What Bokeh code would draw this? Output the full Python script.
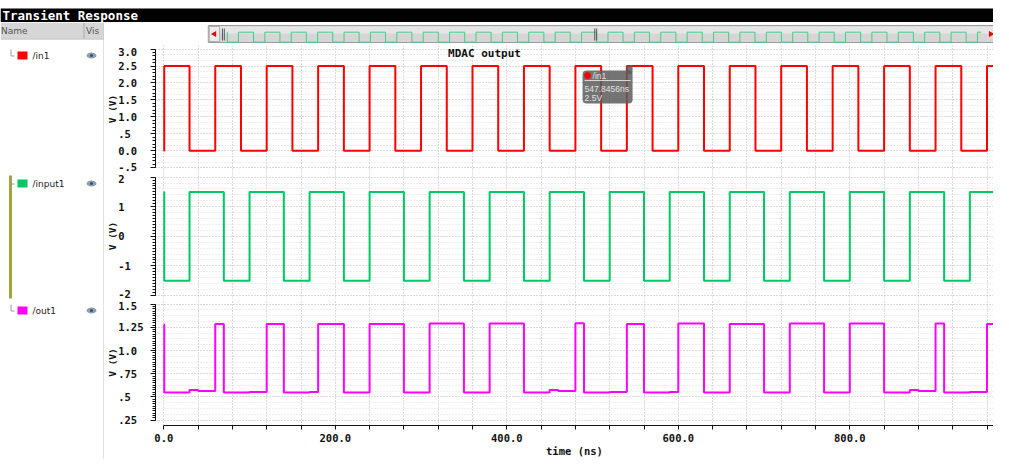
from math import pi
import numpy as np
from bokeh.plotting import figure
from bokeh.layouts import row, column
from bokeh.models import Range1d, FixedTicker, SingleIntervalTicker, Label, BoxAnnotation
from bokeh.core.properties import value
from bokeh.embed import file_html
from bokeh.resources import INLINE

# ---------------- data ----------------
signal_names = ["/in1", "/input1", "/out1"]
signal_colors = ["#ff0000", "#00c864", "#ff00ff"]

in1_t = [0, 0.5, 30, 60, 90, 120, 150, 180, 210, 240, 270, 300, 330, 360, 390, 420,
         450, 480, 510, 540, 570, 600, 630, 660, 690, 720, 750, 780, 810, 840, 870,
         900, 930, 960, 972]
in1_v = [0.0, 2.5, 0.0, 2.5, 0.0, 2.5, 0.0, 2.5, 0.0, 2.5, 0.0, 2.5, 0.0, 2.5, 0.0, 2.5,
         0.0, 2.5, 0.0, 2.5, 0.0, 2.5, 0.0, 2.5, 0.0, 2.5, 0.0, 2.5, 0.0, 2.5, 0.0,
         2.5, 0.0, 2.5, 2.5]

input1_t = [0, 0.5, 30, 70, 100, 140, 170, 210, 240, 280, 310, 350, 380, 420, 450, 490,
            520, 560, 590, 630, 660, 700, 730, 770, 800, 840, 870, 910, 940, 980,
            1010, 1050, 1080, 1120, 1150, 1190, 1220, 1260, 1290, 1330, 1360, 1400,
            1430, 1470, 1500, 1540, 1570, 1610, 1640, 1680, 1710, 1750, 1780, 1820,
            1850, 1890, 1920, 1960, 1990, 2000]
input1_v = [1.5, -1.5, 1.5, -1.5, 1.5, -1.5, 1.5, -1.5, 1.5, -1.5, 1.5, -1.5, 1.5, -1.5, 1.5, -1.5,
            1.5, -1.5, 1.5, -1.5, 1.5, -1.5, 1.5, -1.5, 1.5, -1.5, 1.5, -1.5, 1.5, -1.5,
            1.5, -1.5, 1.5, -1.5, 1.5, -1.5, 1.5, -1.5, 1.5, -1.5, 1.5, -1.5,
            1.5, -1.5, 1.5, -1.5, 1.5, -1.5, 1.5, -1.5, 1.5, -1.5, 1.5, -1.5,
            1.5, -1.5, 1.5, -1.5, 1.5, 1.5]

out1_t = [0, 0.5, 30, 40, 60, 70, 100, 120, 140, 170, 180, 210, 240, 280, 310, 350, 380,
          420, 450, 460, 480, 490, 520, 540, 560, 590, 600, 630, 660, 700, 730, 770,
          800, 840, 870, 880, 900, 910, 940, 960, 972]
out1_v = [1.28, 0.547, 0.575, 0.563, 1.285, 0.547, 0.553, 1.285, 0.547, 0.553, 1.285,
          0.547, 1.285, 0.547, 1.29, 0.547, 1.29, 0.547, 0.575, 0.563, 1.295, 0.547,
          0.553, 1.285, 0.547, 0.553, 1.29, 0.547, 1.285, 0.547, 1.29, 0.547, 1.29,
          0.547, 0.575, 0.563, 1.29, 0.547, 0.553, 1.285, 1.285]

time_ticks = [0, 40, 80, 120, 160, 200, 240, 280, 320, 360, 400, 440, 480, 520, 560,
              600, 640, 680, 720, 760, 800, 840, 880, 920, 960]
time_tick_labels = {0: "0.0", 200: "200.0", 400: "400.0", 600: "600.0", 800: "800.0"}

in1_ticks = [-0.5, 0.0, 0.5, 1.0, 1.5, 2.0, 2.5, 3.0]
in1_tick_labels = ["-.5", "0.0", ".5", "1.0", "1.5", "2.0", "2.5", "3.0"]
input1_ticks = [-2, -1, 0, 1, 2]
input1_tick_labels = ["-2", "-1", "0", "1", "2"]
out1_ticks = [0.25, 0.5, 0.75, 1.0, 1.25, 1.5]
out1_tick_labels = [".25", ".5", ".75", "1.0", "1.25", "1.5"]

cursor_t = 547.8456
cursor_v = 2.5
cursor_name = "/in1"

# ---------------- geometry ----------------
MONO = "DejaVu Sans Mono"
SANS = "DejaVu Sans"
NB = "\u00a0"

LEFT_W = 104
PANEL_W = 993 - LEFT_W
BORDER_L = 155 - LEFT_W
BORDER_R = 0
FRAME_W = PANEL_W - BORDER_L - BORDER_R
XS = 0.8575                       # px per ns
X0 = -(163.3 - 155) / XS
X1 = X0 + FRAME_W / XS
shared_x = Range1d(X0, X1)


def make_panel(height, y0, y1, ticks, labels, minor, grid_iv, grid_minor, bottom=False):
    p = figure(width=PANEL_W, height=height, x_range=shared_x, y_range=Range1d(y0, y1),
               output_backend="svg", toolbar_location=None,
               x_axis_location="below" if bottom else None,
               min_border_left=BORDER_L, min_border_right=BORDER_R, min_border_top=0,
               min_border_bottom=31 if bottom else 0,
               outline_line_color=None, background_fill_color="white",
               border_fill_color="white")
    ax = p.yaxis[0]
    ax.ticker = FixedTicker(ticks=ticks, minor_ticks=minor)
    ax.bounds = (ticks[0], ticks[-1])
    ax.major_label_overrides = {t: lab.ljust(4, NB) for t, lab in zip(ticks, labels)}
    ax.major_tick_out = 5
    ax.major_tick_in = 0
    ax.minor_tick_out = 3
    ax.minor_tick_in = 0
    ax.axis_line_color = "#111111"
    ax.major_tick_line_color = "#111111"
    ax.minor_tick_line_color = "#111111"
    ax.major_label_standoff = 7
    ax.major_label_text_font = MONO
    ax.major_label_text_font_size = "10.5px"
    ax.major_label_text_font_style = "bold"
    ax.major_label_text_color = "#111111"
    ax.axis_label = "V (V)"
    ax.axis_label_standoff = -3
    ax.axis_label_text_font = MONO
    ax.axis_label_text_font_size = "9.5px"
    ax.axis_label_text_font_style = "bold"
    ax.axis_label_text_color = "#111111"

    p.xgrid.ticker = FixedTicker(ticks=time_ticks)
    p.xgrid.grid_line_color = "#b9b9b9"
    p.xgrid.grid_line_dash = "1 2"
    p.ygrid.ticker = SingleIntervalTicker(interval=grid_iv, num_minor_ticks=grid_minor)
    p.ygrid.grid_line_color = "#c9c9c9"
    p.ygrid.grid_line_dash = "1 2"
    p.ygrid.minor_grid_line_color = "#dddddd"
    p.ygrid.minor_grid_line_dash = "1 2"

    if bottom:
        xa = p.xaxis[0]
        xa.ticker = FixedTicker(ticks=time_ticks, minor_ticks=[])
        xa.bounds = (0, in1_t[-1])
        xa.major_label_overrides = {t: time_tick_labels.get(t, "") for t in time_ticks}
        xa.major_tick_out = 4
        xa.major_tick_in = 0
        xa.minor_tick_out = 0
        xa.axis_line_color = "#111111"
        xa.major_tick_line_color = "#111111"
        xa.major_label_standoff = 4
        xa.major_label_text_font = MONO
        xa.major_label_text_font_size = "10.5px"
        xa.major_label_text_font_style = "bold"
        xa.major_label_text_color = "#111111"
        xa.axis_label = "time (ns)"
        xa.axis_label_standoff = 0
        xa.axis_label_text_font = MONO
        xa.axis_label_text_font_size = "10.5px"
        xa.axis_label_text_font_style = "bold"
        xa.axis_label_text_color = "#111111"
    return p


p1 = make_panel(127, -0.640, 3.106, in1_ticks, in1_tick_labels,
                np.round(np.arange(-0.5, 3.0001, 0.1), 3).tolist(), 0.5, 3)
p2 = make_panel(127, -2.135, 2.155, input1_ticks, input1_tick_labels,
                np.round(np.arange(-2.0, 2.0001, 0.1), 3).tolist(), 1.0, 5)
p3 = make_panel(160, 0.1917, 1.550, out1_ticks, out1_tick_labels,
                np.round(np.arange(0.25, 1.5001, 0.025), 4).tolist(), 0.25, 4, bottom=True)

p1.step(x=in1_t, y=in1_v, mode="after", line_color=signal_colors[0], line_width=2)
p2.step(x=input1_t, y=input1_v, mode="after", line_color=signal_colors[1], line_width=2)
p3.step(x=out1_t, y=out1_v, mode="after", line_color=signal_colors[2], line_width=2)

# graph title
YS1 = 127 / (3.106 + 0.640)
p1.add_layout(Label(x=(484 - 163.3) / XS, y=3.106 - 8 / YS1, text="MDAC output",
                    text_align="center", text_baseline="middle", text_font=MONO,
                    text_font_size="11px", text_font_style="bold", text_color="#111111"))


# cursor tooltip on /in1
def tip_x(px):
    return cursor_t + px / XS


def tip_y(py):
    return cursor_v - py / YS1


p1.add_layout(BoxAnnotation(left=tip_x(-51), right=tip_x(-1), top=tip_y(4.5), bottom=tip_y(37.5),
                            fill_color="#5c5c5c", fill_alpha=0.85, line_color=None,
                            border_radius=4))
p1.add_layout(BoxAnnotation(left=tip_x(-7), right=tip_x(-1), top=tip_y(-1), bottom=tip_y(8),
                            fill_color="#5c5c5c", fill_alpha=0.85, line_color=None,
                            border_radius=2))
p1.scatter(x=[tip_x(-46)], y=[tip_y(9.5)], size=6, color=signal_colors[0], level="overlay")
p1.segment(x0=[tip_x(-49)], y0=[tip_y(14.5)], x1=[tip_x(-3)], y1=[tip_y(14.5)],
           line_color="#d8d8d8", line_width=1, level="overlay")
for txt, dx, dy in [(cursor_name, -41, -9.5), (f"{cursor_t}ns", -49, -22.5),
                    (f"{cursor_v}V", -49, -31.5)]:
    p1.add_layout(Label(x=cursor_t, y=cursor_v, x_offset=dx, y_offset=dy, text=txt,
                        text_align="left", text_baseline="middle", text_font="Liberation Sans",
                        text_font_size="8.5px", text_color="#e2e2e2"))


# ---------------- chrome ----------------
def chrome_fig(w, h, xr, yr, bg="white"):
    f = figure(width=w, height=h, x_range=Range1d(*xr), y_range=Range1d(*yr),
               output_backend="svg", toolbar_location=None, x_axis_location=None,
               y_axis_location=None, min_border=0, outline_line_color=None,
               background_fill_color=bg, border_fill_color=bg)
    f.xgrid.visible = False
    f.ygrid.visible = False
    return f


# title bar (reference px coordinates)
tb = chrome_fig(993, 22, (0, 993), (22, 0))
tb.quad(left=[0], right=[993], top=[8], bottom=[22], fill_color="black", line_color=None)
tb.add_layout(Label(x=2, y=15.3, text="Transient Response", text_align="left",
                    text_baseline="middle", text_font=MONO, text_font_size="12.5px",
                    text_font_style="bold", text_color="white"))

# left signal list panel (reference px coordinates)
lp = chrome_fig(LEFT_W, 437, (0, LEFT_W), (459, 22))
lp.quad(left=[0], right=[LEFT_W], top=[22], bottom=[38], fill_color="#d6d6d6", line_color=None)
lp.segment(x0=[0], y0=[38.5], x1=[LEFT_W], y1=[38.5], line_color="#b4b4b4", line_width=1)
lp.segment(x0=[83.5], y0=[22], x1=[83.5], y1=[38], line_color="#a8a8a8", line_width=1)
lp.text(x=[0.5, 85.5], y=[30.5, 30.5], text=["Name", "Vis"], text_font=value(SANS),
        text_font_size="9px", text_color="#555555", text_baseline="middle")
lp.segment(x0=[LEFT_W - 0.5], y0=[22], x1=[LEFT_W - 0.5], y1=[459], line_color="#c4c4c4",
           line_width=1)
lp.quad(left=[8.5], right=[11.5], top=[175], bottom=[298], fill_color="#a3a33a", line_color=None)
row_y = [55, 183, 310]
for name, col, y in zip(signal_names, signal_colors, row_y):
    lp.line(x=[10.5, 10.5, 14], y=[y - 6, y + 0.5, y + 0.5], line_color="#9a9a9a", line_width=1)
    lp.quad(left=[17], right=[27], top=[y - 4], bottom=[y + 4], fill_color=col, line_color=None)
    lp.text(x=[32], y=[y + 0.5], text=[name], text_font=value(SANS), text_font_size="9px",
            text_color="#222222", text_baseline="middle")
    lp.ellipse(x=[91], y=[y], width=10, height=6, fill_color="#8d9fb6", line_color=None)
    lp.scatter(x=[91], y=[y], size=3, fill_color="#3f4f63", line_color=None)

# scrollbar with overview of /input1
SPX = 0.4            # px per ns in overview
SCY = 10 / 3         # px per V in overview


def scx(px):
    return (px - 180) / SPX


def scy(py):
    return (36.7 - py) / SCY


sc = chrome_fig(PANEL_W, 23, (scx(LEFT_W), scx(993)), (scy(45), scy(22)))
sc.quad(left=[scx(160)], right=[scx(997)], top=[scy(25)], bottom=[scy(42)],
        fill_color="#d6d6d6", line_color="#9c9c9c", line_width=1)
sc.quad(left=[scx(161)], right=[scx(996)], top=[scy(26)], bottom=[scy(33)],
        fill_color="#e6e6e6", line_color=None)
sc.quad(left=[scx(161)], right=[scx(172)], top=[scy(26)], bottom=[scy(41)],
        fill_color="#ececec", line_color="#b0b0b0")
sc.scatter(x=[scx(166.5), scx(990)], y=[scy(33.5), scy(33.5)], marker="triangle",
           angle=[pi / 2, -pi / 2], size=6, fill_color="#e00000", line_color=None)
sc.step(x=input1_t, y=input1_v, mode="after", line_color="#3fcf86", line_width=1)
for gx in [175, 177, 570, 572]:
    sc.segment(x0=[scx(gx)], y0=[scy(28)], x1=[scx(gx)], y1=[scy(40)],
               line_color="#555555", line_width=1)

layout = column(tb, row(lp, column(sc, p1, p2, p3, spacing=0), spacing=0), spacing=0)

open("out.html", "w").write(file_html(layout, INLINE))
